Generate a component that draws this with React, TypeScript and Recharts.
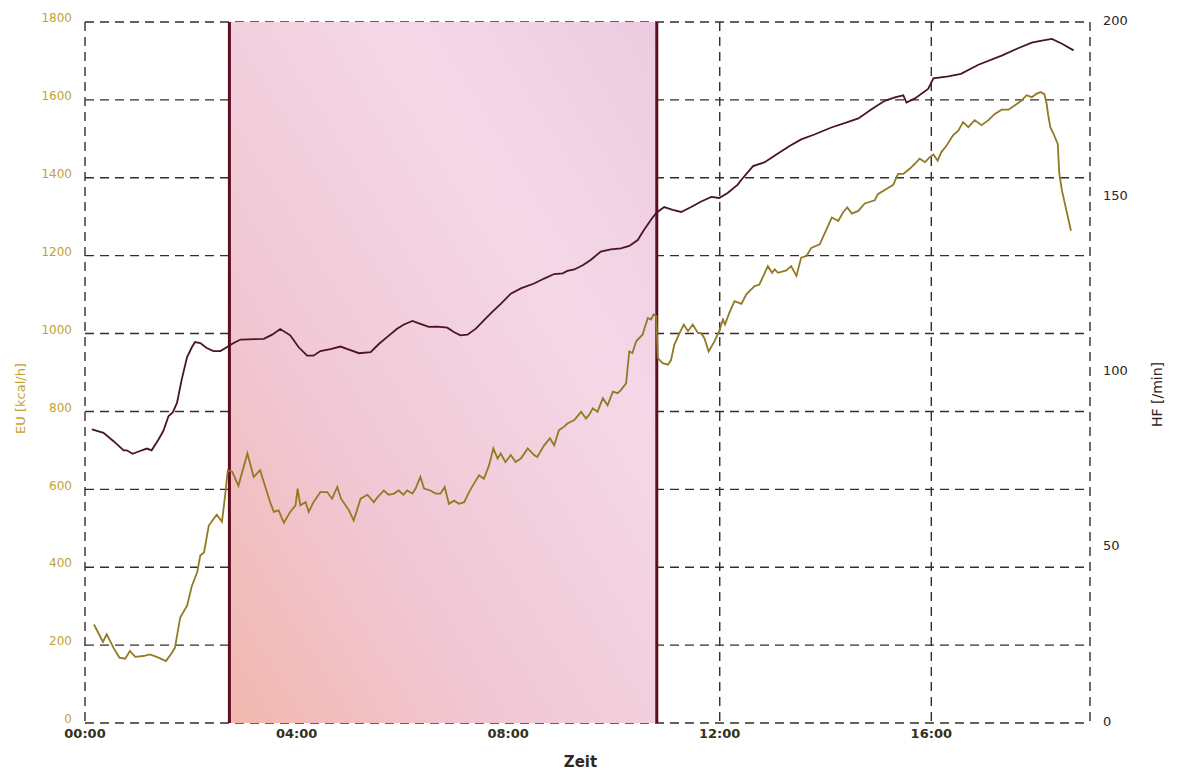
import React from 'react';
import { LineChart, Line, XAxis, YAxis, CartesianGrid, ReferenceArea, ReferenceLine } from 'recharts';

// Zeit in Stunden seit Start
const xTicks = [0, 4, 8, 12, 16];
const euTicks = [0, 200, 400, 600, 800, 1000, 1200, 1400, 1600, 1800];
const hfTicks = [0, 50, 100, 150, 200];

// Belastungsphase (schattiert)
const phaseStart = 2.73;
const phaseEnd = 10.81;

const euTimes = [
  0.17, 0.34, 0.41, 0.54, 0.65, 0.76, 0.85, 0.95, 1.1, 1.23, 1.39, 1.53, 1.64, 1.7, 1.8, 1.93, 2.02, 2.12, 2.18,
  2.25, 2.34, 2.43, 2.49, 2.59, 2.65, 2.7, 2.78, 2.9, 3.07, 3.19, 3.31, 3.41, 3.5, 3.57, 3.66, 3.76, 3.88, 3.98,
  4.02, 4.07, 4.17, 4.23, 4.32, 4.45, 4.58, 4.67, 4.77, 4.84, 4.99, 5.08, 5.21, 5.34, 5.46, 5.52, 5.65, 5.74,
  5.84, 5.93, 6.02, 6.09, 6.19, 6.25, 6.34, 6.41, 6.53, 6.63, 6.72, 6.8, 6.88, 6.98, 7.07, 7.17, 7.26, 7.35,
  7.45, 7.54, 7.64, 7.72, 7.8, 7.86, 7.95, 8.05, 8.14, 8.24, 8.37, 8.49, 8.55, 8.68, 8.79, 8.87, 8.96, 9.06,
  9.12, 9.25, 9.38, 9.47, 9.53, 9.6, 9.69, 9.79, 9.88, 9.98, 10.07, 10.13, 10.23, 10.29, 10.35, 10.42, 10.54,
  10.64, 10.7, 10.75, 10.8, 10.83, 10.92, 11.02, 11.08, 11.14, 11.24, 11.32, 11.4, 11.49, 11.59, 11.65, 11.71,
  11.79, 11.9, 11.99, 12.06, 12.1, 12.18, 12.28, 12.41, 12.5, 12.59, 12.66, 12.75, 12.91, 12.99, 13.04, 13.1,
  13.26, 13.35, 13.45, 13.54, 13.64, 13.73, 13.89, 14.02, 14.12, 14.24, 14.33, 14.41, 14.5, 14.62, 14.74,
  14.93, 14.99, 15.15, 15.28, 15.37, 15.47, 15.59, 15.69, 15.78, 15.88, 15.97, 16.04, 16.12, 16.19, 16.29,
  16.41, 16.51, 16.6, 16.7, 16.82, 16.95, 17.08, 17.2, 17.33, 17.46, 17.58, 17.71, 17.8, 17.9, 17.99, 18.07,
  18.14, 18.18, 18.21, 18.25, 18.31, 18.39, 18.42, 18.47, 18.64,
];
const euValues = [
  253, 208, 228, 193, 168, 165, 185, 170, 172, 176, 168, 159, 180, 193, 271, 301, 352, 387, 430,
  438, 507, 524, 535, 517, 585, 649, 646, 609, 692, 632, 649, 606, 567, 542, 546, 514, 542, 559,
  602, 559, 567, 542, 567, 593, 593, 576, 606, 576, 546, 520, 576, 586, 567, 578, 597, 586,
  589, 597, 586, 597, 589, 602, 632, 602, 597, 589, 589, 606, 563, 571, 563, 567, 593, 614,
  636, 627, 662, 705, 679, 692, 670, 688, 670, 679, 705, 688, 683, 713, 731, 713, 752, 761,
  769, 778, 799, 782, 791, 808, 799, 834, 816, 851, 847, 855, 872, 954, 950, 980, 997,
  1040, 1036, 1049, 1045, 937, 924, 920, 932, 971, 1001, 1023, 1006, 1023, 1001, 1001, 988,
  954, 980, 1006, 1036, 1023, 1053, 1083, 1076, 1100, 1113, 1122, 1126, 1173, 1156, 1165, 1156,
  1162, 1173, 1148, 1195, 1199, 1220, 1229, 1268, 1298, 1289, 1311, 1324, 1308, 1315, 1334,
  1342, 1358, 1371, 1382, 1410, 1410, 1423, 1436, 1449, 1440, 1453, 1460, 1444, 1466, 1483,
  1509, 1521, 1543, 1530, 1548, 1535, 1548, 1564, 1575, 1575, 1586, 1599, 1612, 1607, 1616, 1620,
  1614, 1590, 1560, 1530, 1513, 1487, 1410, 1367, 1264,
];

const hfTimes = [
  0.13, 0.35, 0.54, 0.73, 0.79, 0.9, 1.04, 1.17, 1.26, 1.39, 1.48, 1.58, 1.66, 1.74, 1.83, 1.93, 2.02, 2.08,
  2.18, 2.3, 2.43, 2.56, 2.68, 2.81, 2.94, 3.38, 3.54, 3.69, 3.88, 4.04, 4.2, 4.32, 4.45, 4.64, 4.83, 4.99,
  5.18, 5.4, 5.56, 5.71, 5.9, 6.03, 6.19, 6.34, 6.5, 6.66, 6.85, 6.98, 7.1, 7.23, 7.39, 7.54, 7.7, 7.86, 8.05,
  8.24, 8.49, 8.68, 8.87, 9.03, 9.12, 9.25, 9.41, 9.56, 9.75, 9.94, 10.13, 10.29, 10.45, 10.57, 10.7, 10.8,
  10.95, 11.11, 11.27, 11.46, 11.65, 11.84, 11.99, 12.15, 12.34, 12.41, 12.63, 12.85, 13.1, 13.32, 13.54,
  13.79, 14.11, 14.43, 14.62, 14.87, 15.12, 15.31, 15.47, 15.53, 15.69, 15.94, 16.04, 16.32, 16.56, 16.89,
  17.33, 17.64, 17.9, 18.09, 18.28, 18.47, 18.69,
];
const hfValues = [
  83.8, 82.8, 80.4, 77.8, 77.8, 76.8, 77.6, 78.3, 77.8, 80.9, 83.3, 87.6, 88.6, 91.4, 98.1, 104.4, 107.2, 108.7,
  108.4, 107.0, 106.1, 106.1, 107.2, 108.4, 109.4, 109.6, 110.8, 112.4, 110.6, 107.2, 104.8, 104.8, 106.1, 106.7, 107.4, 106.5,
  105.5, 105.8, 108.2, 110.1, 112.5, 113.7, 114.7, 113.9, 113.0, 113.1, 112.8, 111.5, 110.6, 110.8, 112.5, 114.9, 117.3, 119.6, 122.5,
  124.0, 125.4, 126.8, 128.1, 128.3, 129.0, 129.4, 130.6, 132.1, 134.5, 135.1, 135.4, 136.1, 137.8, 140.7, 143.6, 145.5,
  147.2, 146.4, 145.8, 147.2, 148.8, 150.1, 149.8, 151.2, 153.6, 155.0, 158.9, 160.0, 162.5, 164.6, 166.5,
  167.9, 169.9, 171.5, 172.5, 175.1, 177.5, 178.5, 179.1, 177.0, 178.2, 180.9, 183.9, 184.5, 185.2, 187.8,
  190.4, 192.5, 194.1, 194.7, 195.2, 193.8, 191.9,
];

const euData = euTimes.map((t, i) => ({ t, eu: euValues[i] }));
const hfData = hfTimes.map((t, i) => ({ t, hf: hfValues[i] }));

const gold = '#c4a232';
const euColor = '#927a24';
const hfColor = '#4a1426';
const gridColor = '#3b2b25';

const fmtTime = (h: number) => `${String(h).padStart(2, '0')}:00`;

export default function App() {
  return (
    <div style={{ fontFamily: '"DejaVu Sans", sans-serif' }}>
      <LineChart width={1170} height={763} margin={{ top: 14, right: 6, left: 5, bottom: 18 }}>
        <defs>
          <linearGradient id="phaseFill" x1="0" y1="1" x2="1" y2="0">
            <stop offset="0%" stopColor="#f1b8ae" />
            <stop offset="30%" stopColor="#f1c6d3" />
            <stop offset="70%" stopColor="#f4d8e7" />
            <stop offset="100%" stopColor="#eccbe0" />
          </linearGradient>
        </defs>
        <ReferenceArea
          x1={phaseStart}
          x2={phaseEnd}
          yAxisId="left"
          fill="url(#phaseFill)"
          fillOpacity={1}
          stroke="none"
        />
        <CartesianGrid yAxisId="left" stroke={gridColor} strokeDasharray="9 6" strokeWidth={1.4} />
        <ReferenceLine x={phaseStart} yAxisId="left" stroke="#5c0e1e" strokeWidth={3} />
        <ReferenceLine x={phaseEnd} yAxisId="left" stroke="#5c0e1e" strokeWidth={3} />
        <XAxis
          dataKey="t"
          type="number"
          domain={[0, 19]}
          ticks={xTicks}
          tickFormatter={fmtTime}
          allowDuplicatedCategory={false}
          axisLine={false}
          tickLine={false}
          tickSize={4}
          tickMargin={2}
          height={30}
          tick={{ fill: '#34301a', fontSize: 13, fontWeight: 600 }}
          label={({ viewBox }: any) => (
            <text
              x={viewBox.x + viewBox.width / 2 - 7}
              y={viewBox.y + 44}
              textAnchor="middle"
              fill="#2c2a1c"
              fontSize={15}
              fontWeight={600}
            >
              Zeit
            </text>
          )}
        />
        <YAxis
          yAxisId="left"
          orientation="left"
          domain={[0, 1800]}
          ticks={euTicks}
          width={72}
          axisLine={false}
          tickLine={false}
          tickSize={6}
          tickMargin={7}
          tick={{ fill: gold, fontSize: 12, dy: -4 }}
          label={({ viewBox }: any) => {
            const x = viewBox.x + 12;
            const y = viewBox.y + viewBox.height / 2 + 26;
            return (
              <text x={x} y={y} transform={`rotate(-90 ${x} ${y})`} textAnchor="middle" fill={gold} fontSize={13}>
                EU [kcal/h]
              </text>
            );
          }}
        />
        <YAxis
          yAxisId="right"
          orientation="right"
          domain={[0, 200]}
          ticks={hfTicks}
          width={82}
          axisLine={false}
          tickLine={false}
          tickSize={6}
          tickMargin={7}
          tick={{ fill: '#2e2424', fontSize: 13, dy: -2 }}
          label={({ viewBox }: any) => {
            const x = viewBox.x + 72;
            const y = viewBox.y + viewBox.height / 2 + 22;
            return (
              <text x={x} y={y} transform={`rotate(-90 ${x} ${y})`} textAnchor="middle" fill="#2e2424" fontSize={14}>
                HF [/min]
              </text>
            );
          }}
        />
        <Line
          data={hfData}
          dataKey="hf"
          yAxisId="right"
          type="linear"
          stroke={hfColor}
          strokeWidth={1.8}
          dot={false}
          isAnimationActive={false}
        />
        <Line
          data={euData}
          dataKey="eu"
          yAxisId="left"
          type="linear"
          stroke={euColor}
          strokeWidth={1.8}
          dot={false}
          isAnimationActive={false}
        />
      </LineChart>
    </div>
  );
}
